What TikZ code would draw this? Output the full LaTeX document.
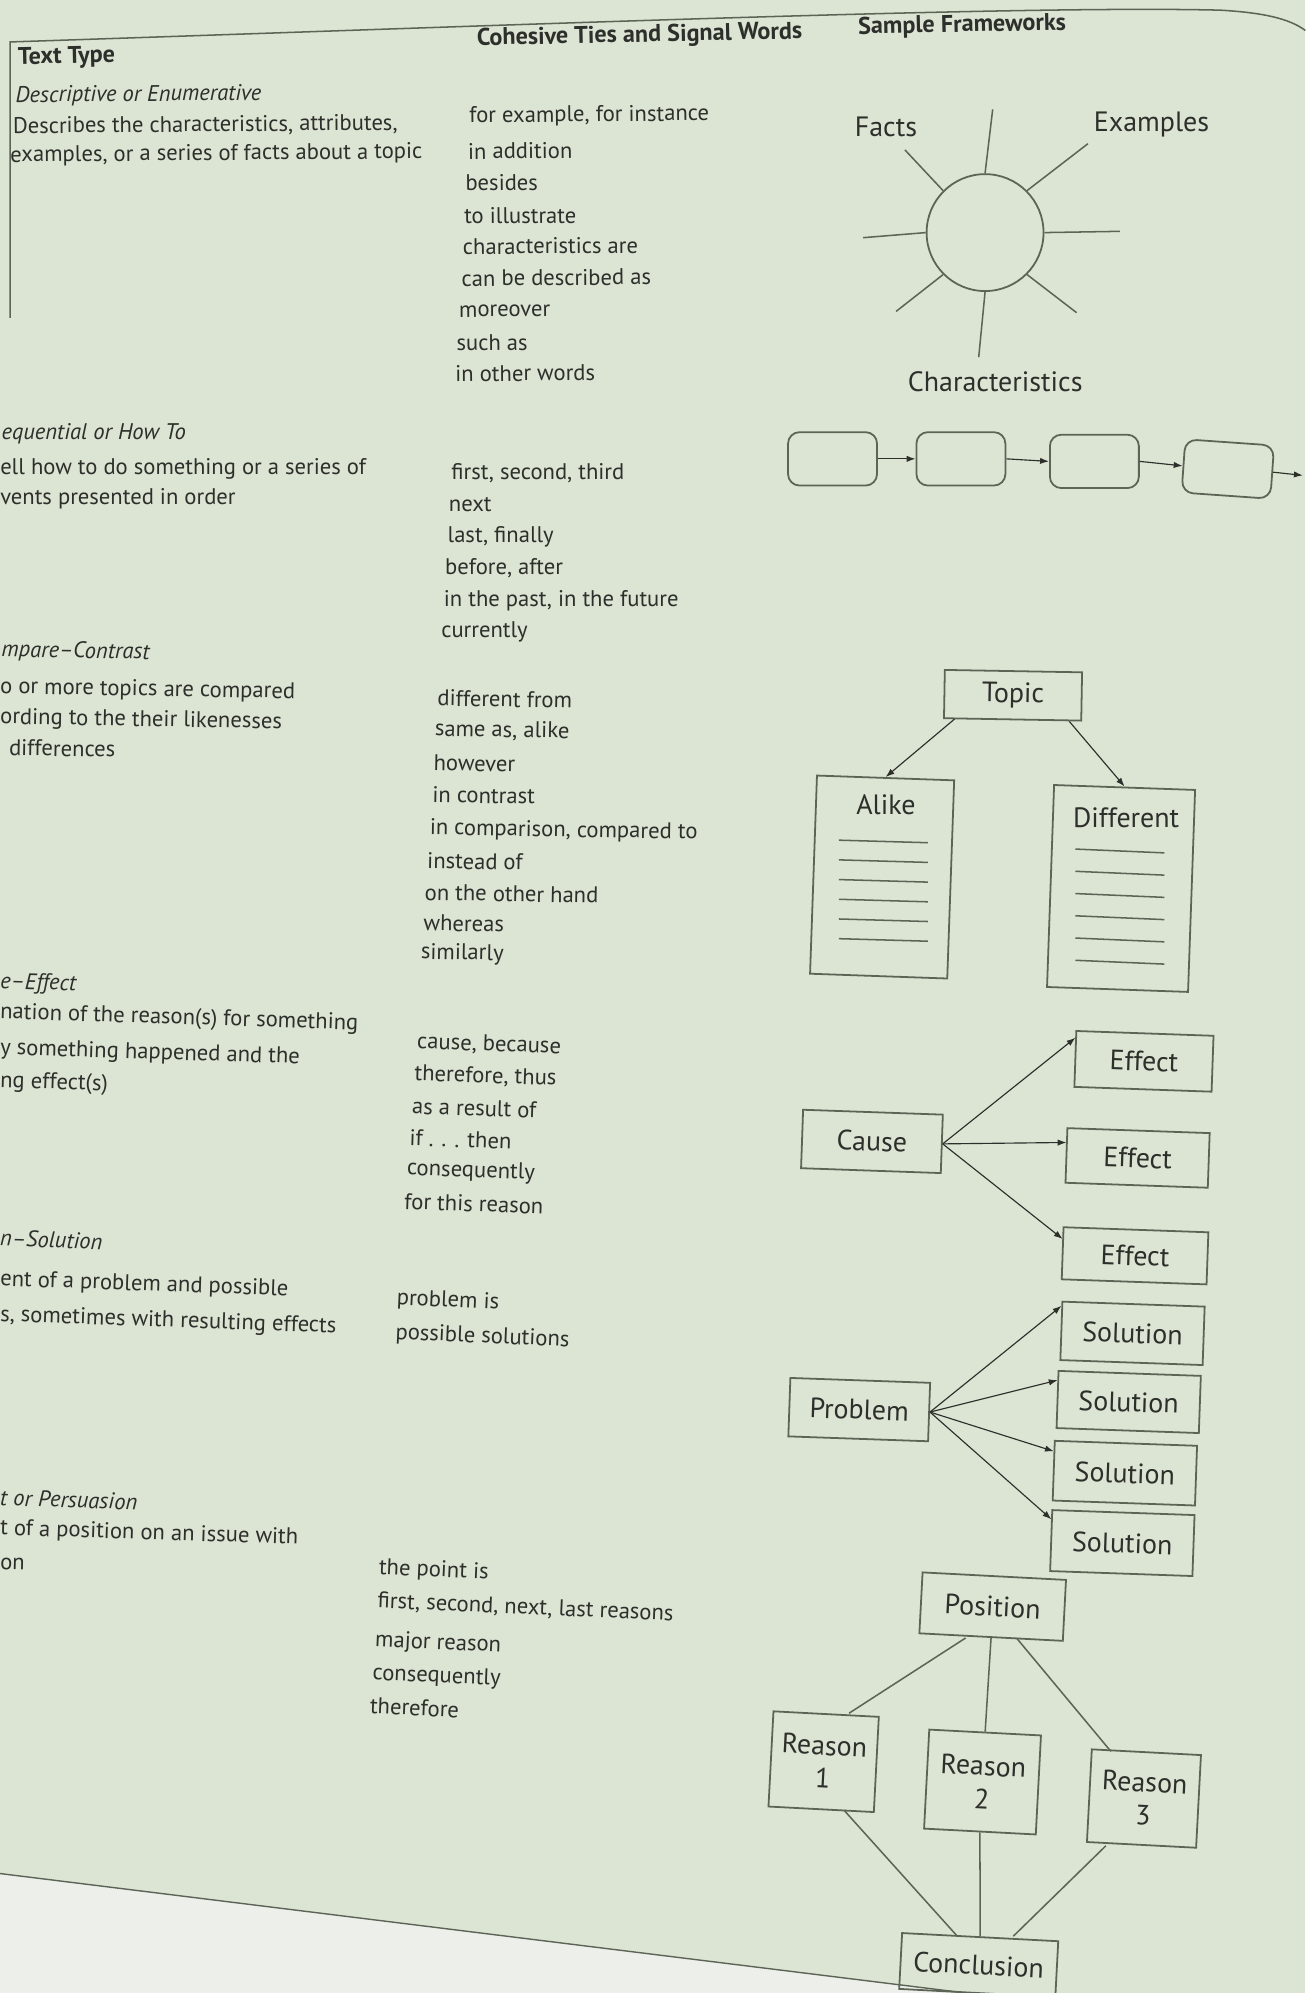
\documentclass[tikz,border=0pt]{standalone}
\usepackage{fontspec}
\setmainfont{PT Sans}
\usetikzlibrary{arrows.meta}
\definecolor{pagebg}{RGB}{220,228,212}
\definecolor{ink}{RGB}{44,47,42}
\definecolor{lineclr}{RGB}{92,100,86}
\definecolor{paper}{RGB}{236,239,234}
\begin{document}
\begin{tikzpicture}[x=1pt,y=-1pt,
  txt/.style={anchor=west,inner sep=0pt,text=ink,font=\fontsize{17.8}{21}\selectfont},
  itx/.style={anchor=west,inner sep=0pt,text=ink,font=\fontsize{17.8}{21}\selectfont\itshape},
  hdr/.style={anchor=west,inner sep=0pt,text=ink,font=\fontsize{19}{22}\selectfont\bfseries},
  lbl/.style={text=ink,font=\fontsize{22}{25}\selectfont,inner sep=0pt},
  box/.style={draw=lineclr,line width=1.4pt,text=ink,font=\fontsize{22}{26}\selectfont,inner sep=0pt,align=center},
  rbox/.style={draw=lineclr,line width=1.4pt,rounded corners=9pt,minimum width=70pt,minimum height=42pt},
  arr/.style={draw=ink,line width=0.9pt,-{Latex[length=7pt,width=5pt]}},
  ln/.style={draw=lineclr,line width=1.2pt},
]
\useasboundingbox (0,0) rectangle (1027,1568);
\fill[pagebg] (0,0) rectangle (1027,1568);
% area below the page
\fill[paper] (0,1474) -- (760,1568) -- (0,1568) -- cycle;
\draw[lineclr,line width=1.1pt] (0,1474) -- (760,1568);
% table frame
\draw[lineclr,line width=1.2pt] (8,250) -- (8,33) .. controls (400,20) and (800,4) .. (960,8) .. controls (995,10) and (1015,15) .. (1027,24);

% headings
\node[hdr,rotate=1.2] (hText) at (14,46) {Text Type};
\node[hdr,rotate=1.2] (hTies) at (375,31) {Cohesive Ties and Signal Words};
\node[hdr,rotate=1.2] (hSample) at (675,22) {Sample Frameworks};

% text type column
\node[itx,rotate=0.5] (d1) at (12,76) {Descriptive or Enumerative};
\node[txt,rotate=0.5] (d2) at (10,100) {Describes the characteristics, attributes,};
\node[txt,rotate=0.5] (d3) at (8,123) {examples, or a series of facts about a topic};
\node[itx] (s1) at (1,341) {equential or How To};
\node[txt] (s2) at (0,369) {ell how to do something or a series of};
\node[txt] (s3) at (0,392) {vents presented in order};
\node[itx,rotate=-1] (c1) at (1,512) {mpare–Contrast};
\node[txt,rotate=-1] (c2) at (0,541) {o or more topics are compared};
\node[txt,rotate=-1] (c3) at (0,565) {ording to the their likenesses};
\node[txt,rotate=-1] (c4) at (7,588) {differences};
\node[itx,rotate=-1.8] (e1) at (0,773) {e–Effect};
\node[txt,rotate=-1.8] (e2) at (0,797) {nation of the reason(s) for something};
\node[txt,rotate=-1.8] (e3) at (0,825) {y something happened and the};
\node[txt,rotate=-1.8] (e4) at (0,851) {ng effect(s)};
\node[itx,rotate=-2] (p1) at (0,974) {n–Solution};
\node[txt,rotate=-2] (p2) at (0,1007) {ent of a problem and possible};
\node[txt,rotate=-2] (p3) at (0,1035) {s, sometimes with resulting effects};
\node[itx,rotate=-2] (a1) at (0,1178) {t or Persuasion};
\node[txt,rotate=-1.8] (a2) at (0,1203) {t of a position on an issue with};
\node[txt,rotate=-1.8] (a3) at (0,1230) {on};

% signal words column
\node[txt,rotate=0.5] (w1) at (369,92) {for example, for instance};
\node[txt,rotate=0.5] (w2) at (368,119) {in addition};
\node[txt,rotate=0.5] (w3) at (366,144) {besides};
\node[txt,rotate=0.5] (w4) at (365,170) {to illustrate};
\node[txt,rotate=0.5] (w5) at (364,194) {characteristics are};
\node[txt,rotate=0.5] (w6) at (363,219) {can be described as};
\node[txt,rotate=0.5] (w7) at (361,245) {moreover};
\node[txt,rotate=0.5] (w8) at (359,270) {such as};
\node[txt,rotate=0.5] (w9) at (358,294) {in other words};
\node[txt] (x1) at (355,372) {first, second, third};
\node[txt] (x2) at (353,397) {next};
\node[txt] (x3) at (352,422) {last, finally};
\node[txt] (x4) at (350,447) {before, after};
\node[txt] (x5) at (349,473) {in the past, in the future};
\node[txt] (x6) at (347,497) {currently};
\node[txt,rotate=-1] (y1) at (344,549) {different from};
\node[txt,rotate=-1] (y2) at (342,574) {same as, alike};
\node[txt,rotate=-1] (y3) at (341,600) {however};
\node[txt,rotate=-1] (y4) at (340,625) {in contrast};
\node[txt,rotate=-1] (y5) at (338,652) {in comparison, compared to};
\node[txt,rotate=-1] (y6) at (336,677) {instead of};
\node[txt,rotate=-1] (y7) at (334,702) {on the other hand};
\node[txt,rotate=-1] (y8) at (333,726) {whereas};
\node[txt,rotate=-1] (y9) at (331,750) {similarly};
\node[txt,rotate=-2] (z1) at (328,820) {cause, because};
\node[txt,rotate=-2] (z2) at (326,845) {therefore, thus};
\node[txt,rotate=-2] (z3) at (324,870) {as a result of};
\node[txt,rotate=-2] (z4) at (322,895) {if . . . then};
\node[txt,rotate=-2] (z5) at (320,920) {consequently};
\node[txt,rotate=-2] (z6) at (318,945) {for this reason};
\node[txt,rotate=-2.5] (u1) at (312,1022) {problem is};
\node[txt,rotate=-2.5] (u2) at (311,1049) {possible solutions};
\node[txt,rotate=-2.5] (v1) at (298,1234) {the point is};
\node[txt,rotate=-2.5] (v2) at (297,1260) {first, second, next, last reasons};
\node[txt,rotate=-2.5] (v3) at (295,1291) {major reason};
\node[txt,rotate=-2.5] (v4) at (293,1317) {consequently};
\node[txt,rotate=-2.5] (v5) at (291,1342) {therefore};

% descriptive framework: sun
\node[draw=lineclr,line width=1.4pt,circle,minimum size=92pt,inner sep=0pt] (sun) at (775,183) {};
\coordinate (rN) at (781,86);
\coordinate (rNW) at (712,118);
\coordinate (rNE) at (856,113);
\coordinate (rW) at (679,187);
\coordinate (rE) at (881,182);
\coordinate (rSW) at (705,245);
\coordinate (rSE) at (847,246);
\coordinate (rS) at (770,281);
\draw[ln] (sun.north) -- (rN);
\draw[ln] (sun.135) -- (rNW);
\draw[ln] (sun.45) -- (rNE);
\draw[ln] (sun.west) -- (rW);
\draw[ln] (sun.east) -- (rE);
\draw[ln] (sun.-135) -- (rSW);
\draw[ln] (sun.-45) -- (rSE);
\draw[ln] (sun.south) -- (rS);
\node[lbl] (facts) at (697,100) {Facts};
\node[lbl] (examples) at (906,98) {Examples};
\node[lbl] (charac) at (783,300) {Characteristics};

% sequential framework
\node[rbox] (q1) at (655,361) {};
\node[rbox] (q2) at (756,361) {};
\node[rbox] (q3) at (861,363) {};
\node[rbox,rotate=-4] (q4) at (966,369) {};
\coordinate (qend) at (1025,374);
\draw[arr] (q1.east) -- (q2.west);
\draw[arr] (q2.east) -- (q3.west);
\draw[arr] (q3.east) -- (q4.west);
\draw[arr] (q4.east) -- (qend);

% compare-contrast framework
\node[box,minimum width=108pt,minimum height=38pt,rotate=-1] (topic) at (797,547) {Topic};
\node[box,minimum width=108pt,minimum height=156pt,rotate=-2] (alike) at (694,690) {};
\node[box,minimum width=111pt,minimum height=159pt,rotate=-2] (diff) at (882,699) {};
\node[lbl] (alikelbl) at (697,633) {Alike};
\node[lbl] (difflbl) at (886,643) {Different};
\foreach \k in {0,...,5}{
  \draw[ln] (660,661+15.5*\k) -- (730,663+15.5*\k);
  \draw[ln] (846,668+17.5*\k) -- (916,671+17.5*\k);
}
\draw[arr] ([xshift=9pt]topic.south west) -- (alike.north);
\draw[arr] ([xshift=-10pt]topic.south east) -- (diff.north);

% cause-effect framework
\node[box,minimum width=108pt,minimum height=44pt,rotate=-2] (eff1) at (900,835) {Effect};
\node[box,minimum width=110pt,minimum height=46pt,rotate=-2] (cause) at (686,898) {Cause};
\node[box,minimum width=112pt,minimum height=43pt,rotate=-2] (eff2) at (895,911) {Effect};
\node[box,minimum width=114pt,minimum height=41pt,rotate=-2] (eff3) at (893,988) {Effect};
\draw[arr] (cause.east) -- ([yshift=-6pt]eff1.north west);
\draw[arr] (cause.east) -- ([yshift=-12pt]eff2.north west);
\draw[arr] (cause.east) -- ([yshift=-10pt]eff3.north west);

% problem-solution framework
\node[box,minimum width=112pt,minimum height=46pt,rotate=-2] (sol1) at (891,1049) {Solution};
\node[box,minimum width=110pt,minimum height=46pt,rotate=-2] (problem) at (676,1109) {Problem};
\node[box,minimum width=112pt,minimum height=45pt,rotate=-2] (sol2) at (888,1103) {Solution};
\node[box,minimum width=112pt,minimum height=47pt,rotate=-2] (sol3) at (885,1159) {Solution};
\node[box,minimum width=112pt,minimum height=48pt,rotate=-2] (sol4) at (883,1214) {Solution};
\draw[arr] (problem.east) -- ([yshift=-4pt]sol1.north west);
\draw[arr] (problem.east) -- ([yshift=-8pt]sol2.north west);
\draw[arr] (problem.east) -- ([yshift=-9pt]sol3.north west);
\draw[arr] (problem.east) -- ([yshift=-8pt]sol4.north west);

% argument framework
\node[box,minimum width=113pt,minimum height=48pt,rotate=-3] (position) at (781,1264) {Position};
\node[box,minimum width=83pt,minimum height=75pt,rotate=-3] (reason1) at (648,1386) {Reason\\1};
\node[box,minimum width=88pt,minimum height=78pt,rotate=-3] (reason2) at (773,1402) {Reason\\2};
\node[box,minimum width=86pt,minimum height=73pt,rotate=-3] (reason3) at (900,1415) {Reason\\3};
\node[box,minimum width=123pt,minimum height=44pt,rotate=-3] (conclusion) at (770,1546) {Conclusion};
\draw[ln] ([xshift=-20pt]position.south) -- ([xshift=18pt]reason1.north);
\draw[ln] (position.south) -- (reason2.north);
\draw[ln] ([xshift=20pt]position.south) -- ([xshift=-28pt]reason3.north);
\draw[ln] ([xshift=18pt]reason1.south) -- ([xshift=-18pt]conclusion.north);
\draw[ln] (reason2.south) -- (conclusion.north);
\draw[ln] ([xshift=-28pt]reason3.south) -- ([xshift=26pt]conclusion.north);
\end{tikzpicture}
\end{document}
